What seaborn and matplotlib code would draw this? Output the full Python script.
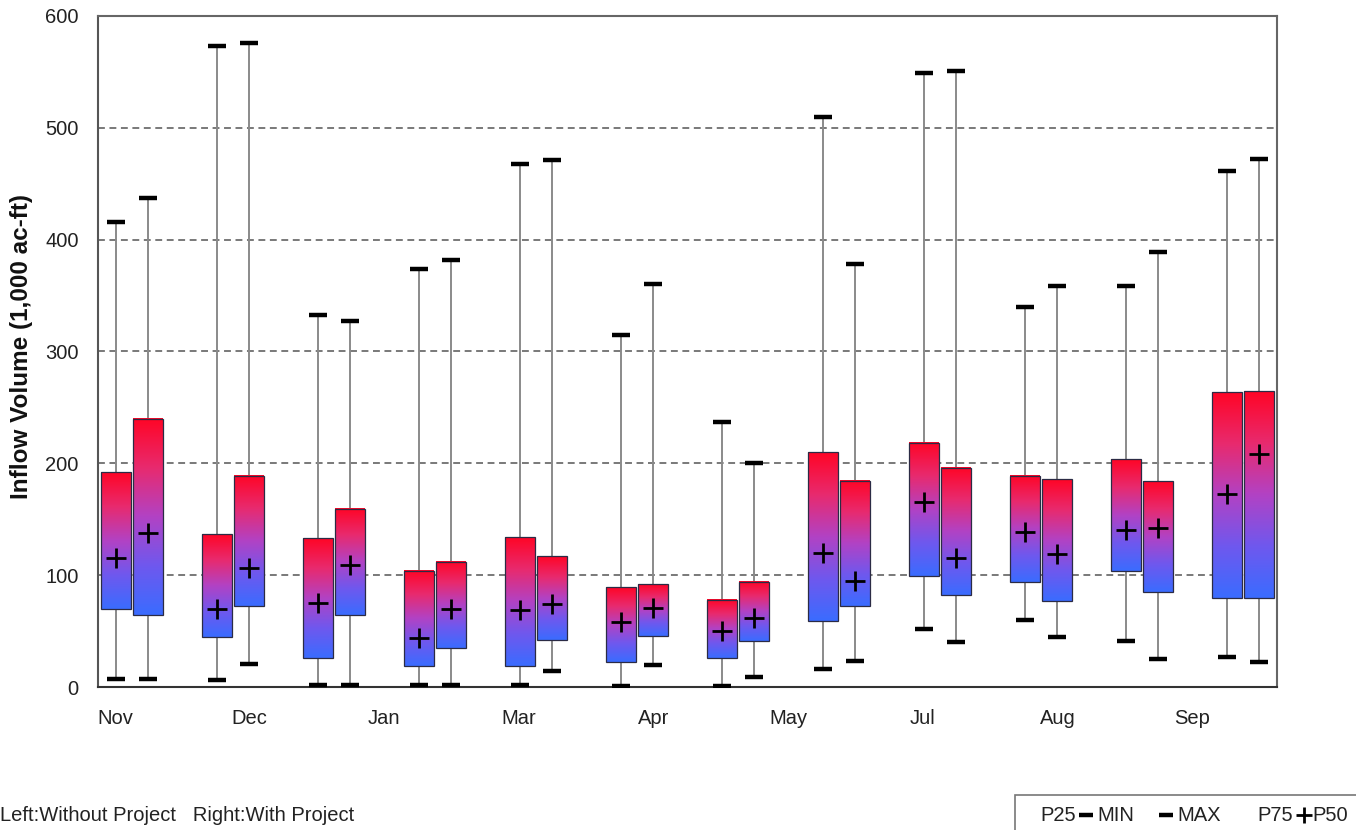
import numpy as np
import pandas as pd
import matplotlib
matplotlib.use("Agg")
import matplotlib.pyplot as plt
import seaborn as sns
from matplotlib.colors import LinearSegmentedColormap
from matplotlib.patches import Rectangle
from matplotlib.lines import Line2D

# 12 monthly pairs, water year order
months = ["Oct", "Nov", "Dec", "Jan", "Feb", "Mar", "Apr", "May", "Jun", "Jul", "Aug", "Sep"]
tick_labels = ["Nov", "Dec", "Jan", "Mar", "Apr", "May", "Jul", "Aug", "Sep"]

# Left box: Without Project (1,000 ac-ft)
wo_min = [7, 6, 2, 2, 2, 0.5, 0.5, 16, 52, 60, 41, 27]
wo_p25 = [70, 45, 26, 19, 19, 22, 26, 59, 99, 94, 104, 80]
wo_p50 = [115, 70, 75, 44, 69, 58, 50, 120, 165, 139, 140, 173]
wo_p75 = [192, 137, 133, 104, 134, 89, 78, 210, 218, 189, 204, 264]
wo_max = [416, 573, 333, 374, 468, 315, 237, 510, 549, 340, 359, 461]

# Right box: With Project
wp_min = [7, 21, 2, 2, 14, 20, 9, 23, 40, 45, 25, 22]
wp_p25 = [64, 72, 64, 35, 42, 46, 41, 72, 82, 77, 85, 80]
wp_p50 = [138, 106, 109, 70, 74, 71, 62, 95, 115, 119, 142, 208]
wp_p75 = [240, 189, 159, 112, 117, 92, 94, 184, 196, 186, 184, 265]
wp_max = [437, 576, 327, 382, 471, 360, 200, 378, 551, 359, 389, 472]


def build_frame():
    rows = []
    for side, off, arrs in [("Without Project", -0.163, (wo_min, wo_p25, wo_p50, wo_p75, wo_max)),
                            ("With Project", 0.163, (wp_min, wp_p25, wp_p50, wp_p75, wp_max))]:
        for i, m in enumerate(months):
            rows.append({"month": m, "side": side, "x": i + off,
                         "min": arrs[0][i], "p25": arrs[1][i], "p50": arrs[2][i],
                         "p75": arrs[3][i], "max": arrs[4][i]})
    return pd.DataFrame(rows)


def main():
    sns.set_theme(style="white")
    plt.rcParams["font.family"] = ["Liberation Sans", "DejaVu Sans"]

    df = build_frame()
    cmap = LinearSegmentedColormap.from_list(
        "rb", ["#3a6cff", "#6f58ee", "#b242c4", "#e82a6e", "#ff0526"])

    fig = plt.figure(figsize=(13.56, 8.30), dpi=100)
    ax = fig.add_axes([98 / 1356, 1 - 687 / 830, (1277 - 98) / 1356, (687 - 16) / 830])

    # grid
    for v in range(100, 600, 100):
        ax.axhline(v, color="#555555", lw=1.1, ls=(0, (4.5, 3)), zorder=0.5)

    # whiskers
    ax.vlines(df["x"], df["min"], df["max"], color="#8a8a8a", lw=1.4, zorder=1.5)

    # gradient boxes
    w = 0.297
    grad = np.linspace(0, 1, 256).reshape(-1, 1)
    for _, r in df.iterrows():
        x0 = r["x"] - w / 2
        ax.imshow(grad, extent=[x0, x0 + w, r["p25"], r["p75"]], origin="lower",
                  cmap=cmap, aspect="auto", interpolation="bilinear", zorder=2)
        ax.add_patch(Rectangle((x0, r["p25"]), w, r["p75"] - r["p25"], fill=False,
                               ec="#2b2b45", lw=0.9, zorder=3))

    # caps (min / max) and medians
    caps = pd.concat([df[["x", "min"]].rename(columns={"min": "v"}),
                      df[["x", "max"]].rename(columns={"max": "v"})])
    sns.scatterplot(data=caps, x="x", y="v", marker="_", s=150, color="black",
                    linewidth=3.2, ax=ax, zorder=4, legend=False)
    sns.scatterplot(data=df, x="x", y="p50", marker="+", s=190, color="black",
                    linewidth=2.0, ax=ax, zorder=4, legend=False)

    ax.set_xlim(-0.337, 11.337)
    ax.set_ylim(0, 600)
    ax.set_yticks(range(0, 601, 100))
    ax.set_xticks(-0.168 + np.arange(len(tick_labels)) * 4 / 3)
    ax.set_xticklabels(tick_labels)
    ax.tick_params(axis="both", length=0, labelsize=14.5, colors="#222222")
    ax.tick_params(axis="y", pad=14)
    ax.tick_params(axis="x", pad=16)
    ax.set_xlabel("")
    ax.set_ylabel("Inflow Volume (1,000 ac-ft)", fontsize=17.5, fontweight="bold", color="#111111")
    ax.yaxis.set_label_coords(-0.055, 0.508)

    for s in ax.spines.values():
        s.set_color("#666666")
        s.set_linewidth(1.5)
    ax.spines["bottom"].set_color("#333333")
    ax.spines["left"].set_color("#555555")

    # footer
    fs = 14.5
    ly = 1 - 815 / 830
    fig.text(0.0, ly, "Left:Without Project   Right:With Project",
             fontsize=fs, color="#222222", va="center", ha="left")

    fig.add_artist(Rectangle((1015 / 1356, -0.05), 0.3, 0.05 + (830 - 795) / 830,
                             transform=fig.transFigure, fill=False, ec="#777777", lw=1.2))
    fig.text(1040 / 1356, ly, "P25", fontsize=fs, va="center", ha="left", color="#222222")
    fig.add_artist(Line2D([1086 / 1356], [ly], marker="_", ms=10, mew=3.2, color="black",
                          transform=fig.transFigure))
    fig.text(1097 / 1356, ly, "MIN", fontsize=fs, va="center", ha="left", color="#222222")
    fig.add_artist(Line2D([1166 / 1356], [ly], marker="_", ms=10, mew=3.2, color="black",
                          transform=fig.transFigure))
    fig.text(1177 / 1356, ly, "MAX", fontsize=fs, va="center", ha="left", color="#222222")
    fig.text(1257 / 1356, ly, "P75", fontsize=fs, va="center", ha="left", color="#222222")
    fig.add_artist(Line2D([1304 / 1356], [ly], marker="+", ms=12, mew=2, color="black",
                          transform=fig.transFigure))
    fig.text(1312 / 1356, ly, "P50", fontsize=fs, va="center", ha="left", color="#222222")

    fig.savefig("out.png", dpi=100)
    plt.close(fig)


if __name__ == "__main__":
    main()
